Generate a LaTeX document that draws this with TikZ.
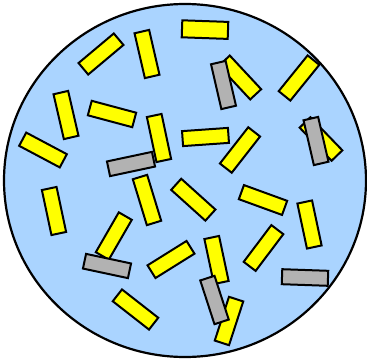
\documentclass[tikz,border=0pt]{standalone}
\usetikzlibrary{shapes.geometric}
\definecolor{dishblue}{RGB}{170,212,255}
\definecolor{rodyellow}{RGB}{255,255,0}
\definecolor{rodgray}{RGB}{178,178,178}
\tikzset{
  dish/.style={draw=black, line width=2.2pt, fill=dishblue},
  rod/.style={draw=black, line width=2pt, inner sep=0pt, outer sep=0pt,
    rectangle, minimum width=46pt, minimum height=15pt},
  yrod/.style={rod, fill=rodyellow},
  grod/.style={rod, fill=rodgray}
}
\begin{document}
\begin{tikzpicture}[x=1pt,y=-1pt]
\useasboundingbox (0,0) rectangle (367,362);
\draw[dish] (185,180.5) ellipse [x radius=181, y radius=176.5];
% yellow rods
\node[yrod, rotate=40]  (y1)  at (101,54) {};
\node[yrod, rotate=-77] (y2)  at (147,54) {};
\node[yrod, rotate=-77] (y3)  at (66,115) {};
\node[yrod, rotate=-15] (y4)  at (112,114) {};
\node[yrod, rotate=-28] (y5)  at (43,150) {};
\node[yrod, rotate=-78] (y6)  at (159,138) {};
\node[yrod, rotate=-2, minimum height=17pt] (y8) at (205,29.6) {};
\node[yrod, rotate=-47] (y10) at (240,77.5) {};
\node[yrod, rotate=51]  (y11) at (299,78) {};
\node[yrod, rotate=4]   (y12) at (205.5,137) {};
\node[yrod, rotate=52]  (y13) at (240,150) {};
\node[yrod, rotate=-46] (y14) at (321,139) {};
\node[yrod, rotate=-78] (y15) at (54,211) {};
\node[yrod, rotate=60]  (y16) at (113.8,236) {};
\node[yrod, rotate=32]  (y18) at (171,259.5) {};
\node[yrod, rotate=-38] (y19) at (135.5,309.5) {};
\node[yrod, rotate=-73, minimum width=48pt] (y20) at (147,200) {};
\node[yrod, rotate=-42] (y21) at (193.3,199.7) {};
\node[yrod, rotate=-20] (y22) at (263,200) {};
\node[yrod, rotate=-78] (y23) at (309.5,224.5) {};
\node[yrod, rotate=53]  (y24) at (263.5,248) {};
\node[yrod, rotate=-78] (y25) at (216.5,260) {};
\node[yrod, rotate=72]  (y27) at (229,321) {};
% gray rods
\node[grod, rotate=12]  (g7)  at (131,164) {};
\node[grod, rotate=-77] (g9)  at (223.5,85) {};
\node[grod, rotate=-77] (g14) at (316,141) {};
\node[grod, rotate=-12] (g17) at (107,266) {};
\node[grod, rotate=-72] (g26) at (214.5,300) {};
\node[grod, rotate=-2]  (g28) at (305,277.5) {};
\end{tikzpicture}
\end{document}
